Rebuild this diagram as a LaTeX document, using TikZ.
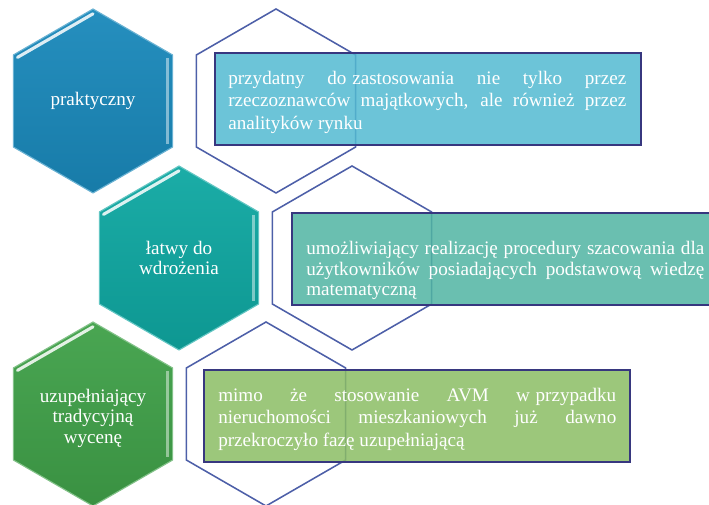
\documentclass[tikz,border=0pt]{standalone}
\usepackage{fontspec}
\setmainfont{Liberation Serif}
\usetikzlibrary{positioning,shapes.geometric}
\definecolor{HexBlue}{HTML}{1A89BB}
\definecolor{HexTeal}{HTML}{0FA8A2}
\definecolor{HexGreen}{HTML}{40A149}
\definecolor{HexEdge}{HTML}{4D5FA8}
\definecolor{BoxEdge}{HTML}{37377F}
\definecolor{BoxBlue}{HTML}{52BAD1}
\definecolor{BoxTeal}{HTML}{50B4A2}
\definecolor{BoxGreen}{HTML}{8BBD64}

\tikzset{
  hexcell/.style={regular polygon, regular polygon sides=6, regular polygon rotate=30,
    minimum size=4.6cm, inner sep=0pt, line width=0.8pt},
  hexlabel/.style={text=white, align=center, inner sep=0pt,
    font=\fontsize{13.6}{14.4}\selectfont},
  hexline/.style={regular polygon, regular polygon sides=6, regular polygon rotate=30,
    minimum size=4.6cm, inner sep=0pt, draw=HexEdge, line width=1.1pt},
  infobox/.style={draw=BoxEdge, line width=1.4pt, fill opacity=0.85,
    minimum width=10.65cm, minimum height=2.3cm, inner sep=0pt, anchor=north west},
  boxtext/.style={text=white, text width=9.95cm, inner sep=0pt, align=justify, anchor=west},
}

\begin{document}
\begin{tikzpicture}[every node/.style={font=\fontsize{13.6}{16}\selectfont}]
  \useasboundingbox (0,0) rectangle (17.725,12.625);
  \clip (0,0) rectangle (17.725,12.625);

  % empty hexagons behind the boxes
  \node[hexline] (outA) at (6.9,10.1) {};
  \node[hexline] (outB) at (8.8,6.175) {};
  \node[hexline] (outC) at (6.65,2.275) {};

  % coloured hexagons
  \node[hexcell, top color=HexBlue!95!white, bottom color=HexBlue!90!black, draw=HexBlue!65!white]
    (hexA) at (2.325,10.1) {};
  \node[hexcell, top color=HexTeal!95!white, bottom color=HexTeal!90!black, draw=HexTeal!65!white]
    (hexB) at (4.475,6.175) {};
  \node[hexcell, top color=HexGreen!95!white, bottom color=HexGreen!90!black, draw=HexGreen!65!white]
    (hexC) at (2.325,2.275) {};

  % bevel highlights
  \foreach \h in {hexA,hexB,hexC} {
    \draw[white, line width=2.2pt, line cap=round, opacity=0.85]
      ([shift={(150:2.18)}]\h.center) -- ([shift={(90:2.18)}]\h.center);
    \draw[white, line width=1.6pt, opacity=0.45]
      ([shift={(30:2.15)}]\h.center) -- ([shift={(-30:2.15)}]\h.center);
  }

  \node[hexlabel] (lblA) at (hexA.center) {praktyczny};
  \node[hexlabel] (lblB) at (hexB.center) {łatwy do\\wdrożenia};
  \node[hexlabel, below=-0.62cm of hexC.center] (lblC) {uzupełniający\\tradycyjną\\wycenę};

  % text boxes
  \node[infobox, fill=BoxBlue] (boxA) at (5.35,11.325) {};
  \node[boxtext, right=0.35cm of boxA.west, yshift=-0.075cm] (txtA)
    {przydatny do\nobreak\hspace{0.3em}zastosowania nie tylko przez\linebreak
     rzeczoznawców majątkowych, ale również przez\linebreak
     analityków rynku};

  \node[infobox, fill=BoxTeal] (boxB) at (7.275,7.325) {};
  \node[boxtext, right=0.375cm of boxB.west, yshift=-0.29cm,
    font=\fontsize{13.6}{14.6}\selectfont] (txtB)
    {umożliwiający realizację procedury szacowania dla\linebreak
     użytkowników posiadających podstawową wiedzę\linebreak
     matematyczną};

  \node[infobox, fill=BoxGreen] (boxC) at (5.075,3.4) {};
  \node[boxtext, right=0.375cm of boxC.west, yshift=-0.075cm] (txtC)
    {mimo że stosowanie AVM w\nobreak\hspace{0.3em}przypadku\linebreak
     nieruchomości mieszkaniowych już dawno\linebreak
     przekroczyło fazę uzupełniającą};
\end{tikzpicture}
\end{document}
